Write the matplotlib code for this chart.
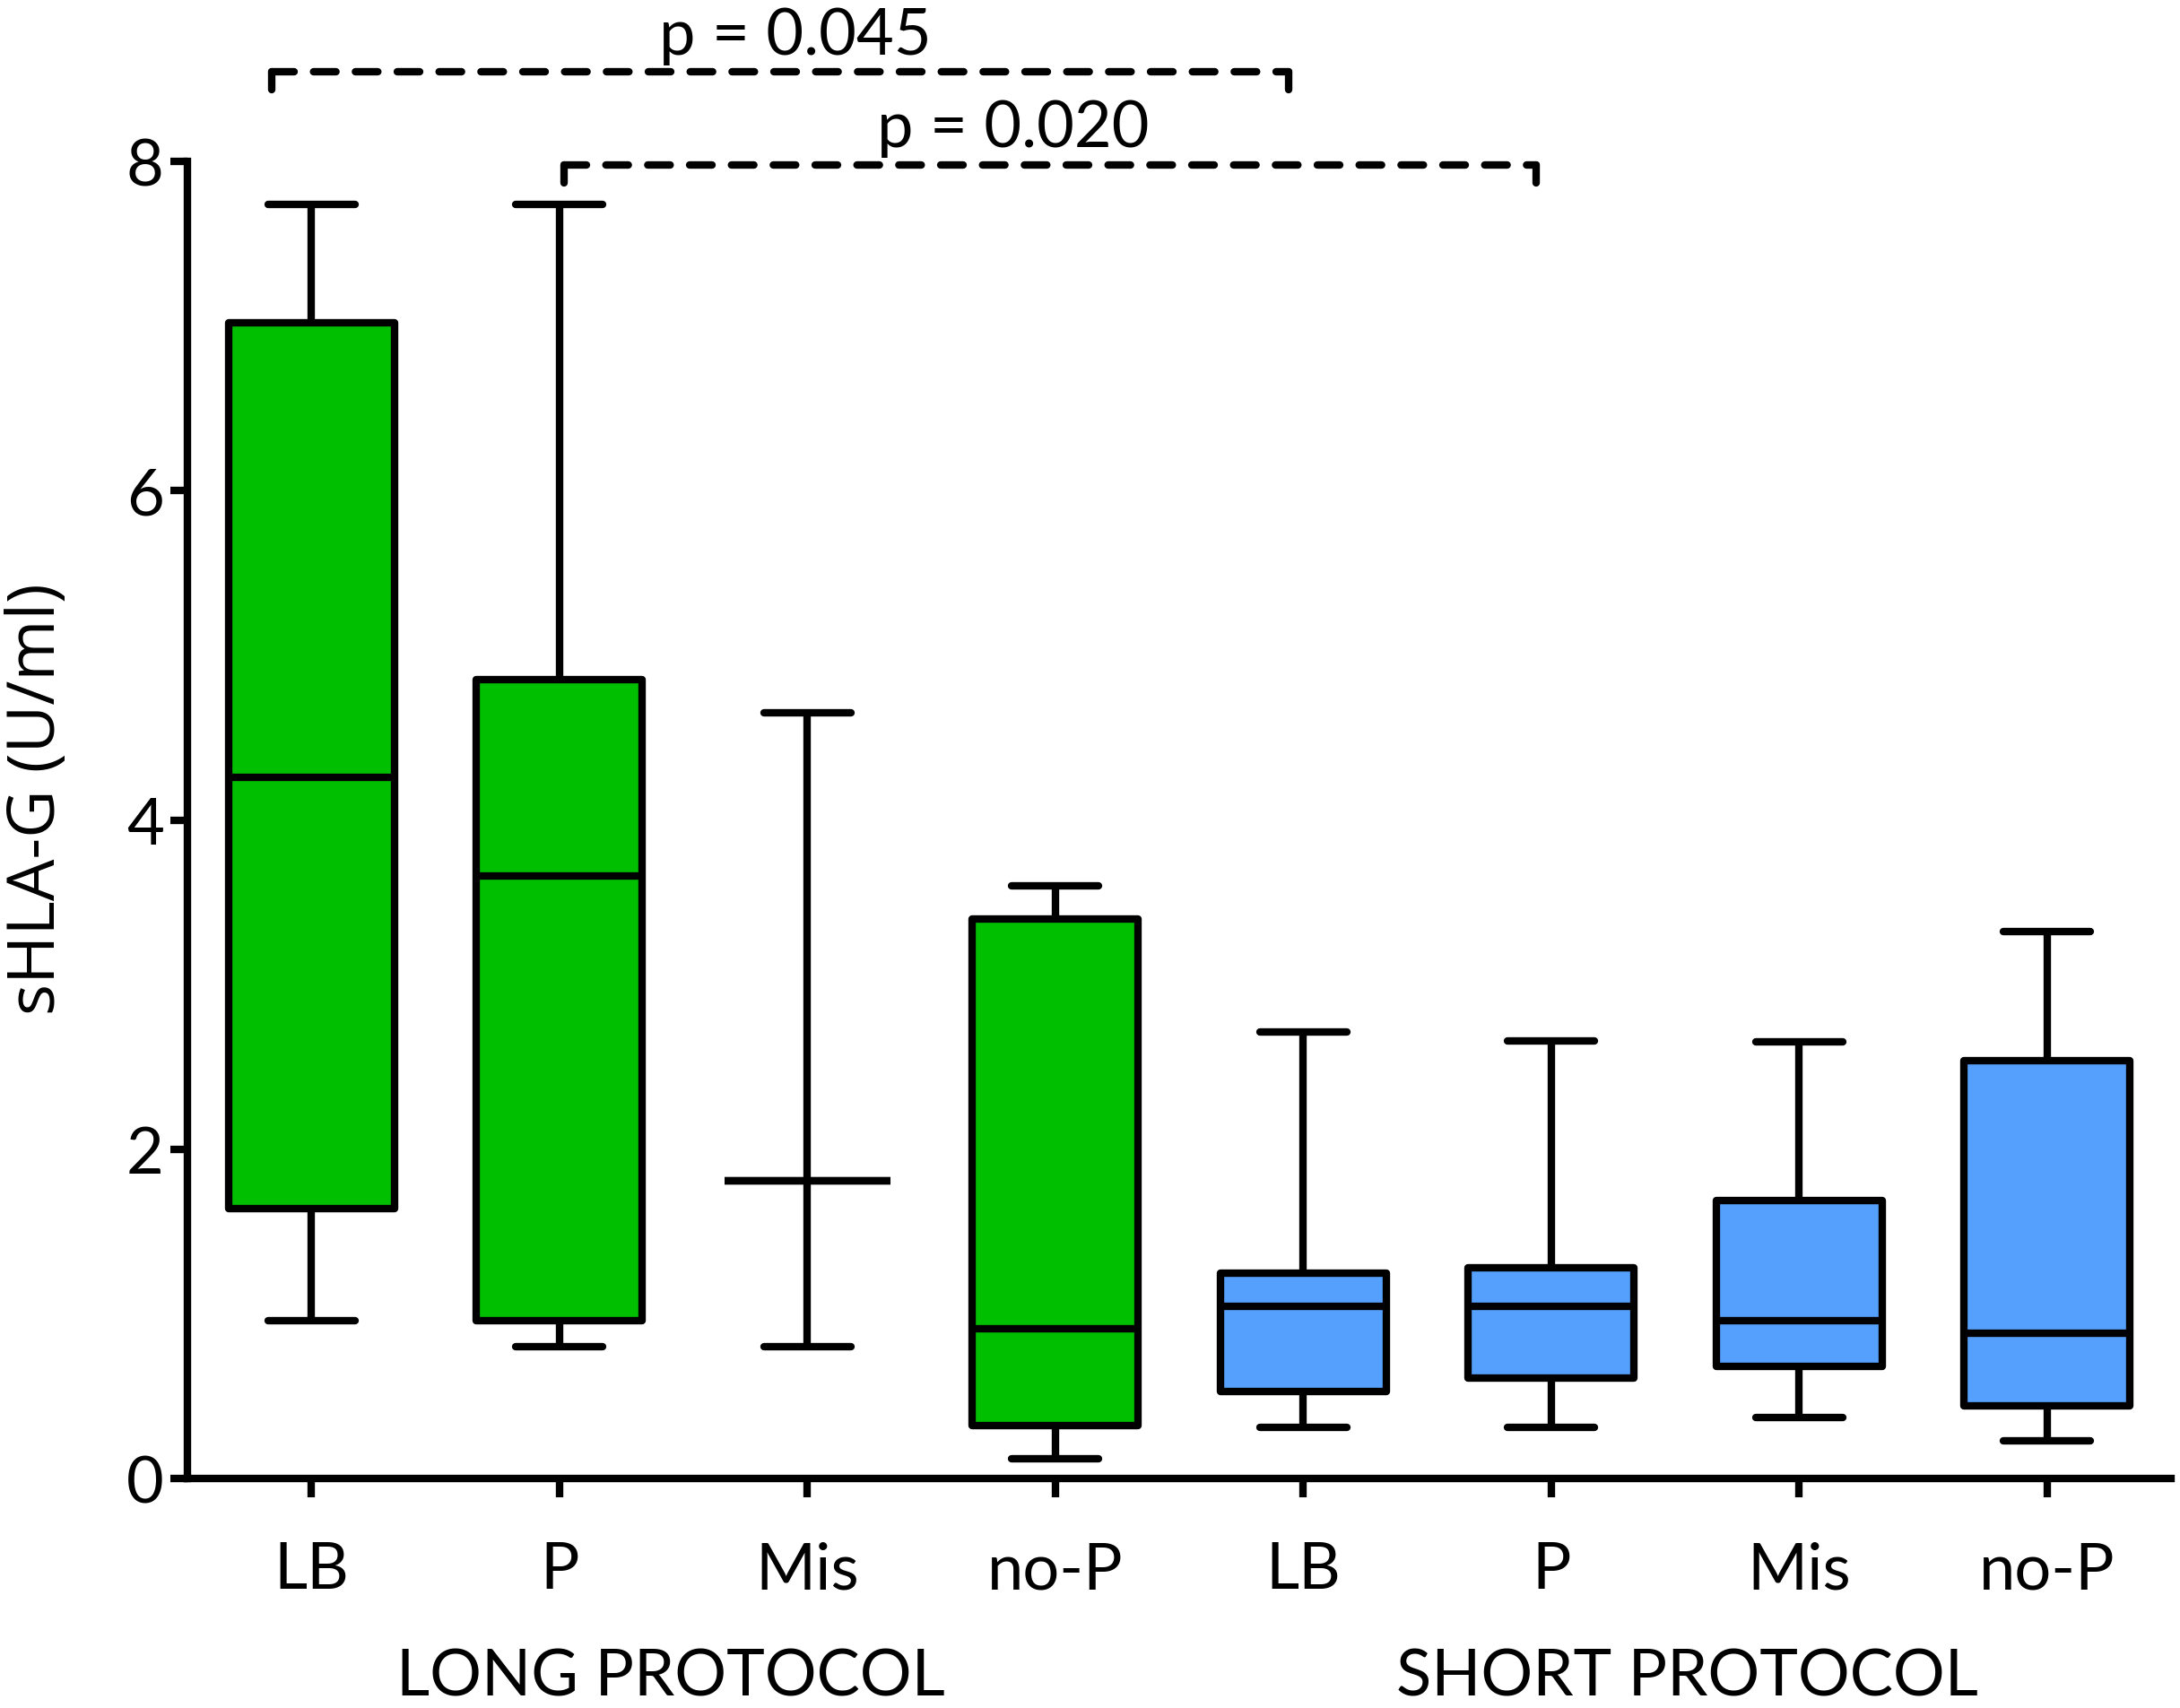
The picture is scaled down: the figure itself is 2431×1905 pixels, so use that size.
import matplotlib
matplotlib.use('Agg')
import matplotlib.pyplot as plt
import matplotlib.transforms as mtransforms

plt.rcParams['font.family'] = ['Lato', 'DejaVu Sans']

# ---- data ----
categories = ['LB', 'P', 'Mis', 'no-P', 'LB', 'P', 'Mis', 'no-P']
groups = ['LONG PROTOCOL', 'SHORT PROTOCOL']
whislo = [0.96, 0.80, 0.80, 0.12, 0.31, 0.31, 0.37, 0.23]
q1 = [1.64, 0.96, 1.81, 0.32, 0.53, 0.61, 0.68, 0.44]
med = [4.26, 3.66, 1.81, 0.91, 1.045, 1.045, 0.96, 0.88]
q3 = [7.02, 4.85, 1.81, 3.40, 1.245, 1.28, 1.69, 2.54]
whishi = [7.74, 7.74, 4.65, 3.60, 2.71, 2.66, 2.65, 3.32]
group_colors = ['#00BF00', '#56A0FD']
comparison_pairs = [(0, 4), (1, 5)]
comparison_labels = ['p = 0.045', 'p = 0.020']
comparison_heights = [8.545, 7.98]
yticks = [0, 2, 4, 6, 8]
ylabel = 'sHLA-G (U/ml)'

W, H = 2431, 1906
fig = plt.figure(figsize=(W / 100, H / 100), dpi=100)
ax = fig.add_axes([209 / W, 1 - 1650 / H, (2421 - 209) / W, (1650 - 181) / H])

LW = 6.0
FS = 52
stats = []
for i in range(len(categories)):
    stats.append(dict(med=med[i], q1=q1[i], q3=q3[i], whislo=whislo[i],
                      whishi=whishi[i], fliers=[]))
positions = list(range(len(categories)))
bp = ax.bxp(stats, positions=positions, widths=0.67, capwidths=0.35,
            patch_artist=True, showfliers=False,
            boxprops=dict(linewidth=LW, edgecolor='black', joinstyle='round'),
            medianprops=dict(linewidth=LW, color='black', solid_capstyle='butt'),
            whiskerprops=dict(linewidth=LW, color='black', solid_capstyle='butt'),
            capprops=dict(linewidth=LW, color='black', solid_capstyle='round'))
for i, patch in enumerate(bp['boxes']):
    patch.set_facecolor(group_colors[0] if i < 4 else group_colors[1])

ax.set_xlim(-0.5, 7.5)
ax.set_ylim(0, 8)
ax.set_yticks(yticks)
ax.set_xticks(positions)
ax.set_xticklabels(categories, fontsize=FS)
ax.tick_params(axis='y', labelsize=FS, length=14, width=LW, pad=5)
ax.tick_params(axis='x', length=15, width=LW, pad=35)
for s in ['top', 'right']:
    ax.spines[s].set_visible(False)
for s in ['left', 'bottom']:
    ax.spines[s].set_linewidth(LW)
    ax.spines[s].set_capstyle('projecting')

# group labels
trans = mtransforms.blended_transform_factory(ax.transData, fig.transFigure)
ax.text(1.45, 1 - 1892 / H, groups[0], transform=trans, ha='center',
        va='baseline', fontsize=FS, clip_on=False)
ax.text(5.55, 1 - 1892 / H, groups[1], transform=trans, ha='center',
        va='baseline', fontsize=FS, clip_on=False)

# y label
fig.text(42 / W, 1 - 891 / H, ylabel, rotation=90, ha='center', va='center',
         fontsize=53, family=['Open Sans', 'DejaVu Sans'])

# significance brackets
left_off = [-0.16, 0.02]
right_off = [-0.06, -0.06]
text_x = [1.95, 2.83]
drop = 0.11
for k, (a, b) in enumerate(comparison_pairs):
    y = comparison_heights[k]
    x0 = a + left_off[k]
    x1 = b + right_off[k]
    ax.plot([x0, x1], [y, y], color='black', lw=LW, ls=(0, (3.0, 2.6)),
            dash_capstyle='round', clip_on=False)
    ax.plot([x0, x0], [y - drop, y], color='black', lw=LW,
            solid_capstyle='round', clip_on=False)
    ax.plot([x1, x1], [y - drop, y], color='black', lw=LW,
            solid_capstyle='round', clip_on=False)
    ax.text(text_x[k], y + 0.11, comparison_labels[k], ha='center',
            va='baseline', fontsize=FS, clip_on=False)

fig.savefig('out.png', dpi=100)
